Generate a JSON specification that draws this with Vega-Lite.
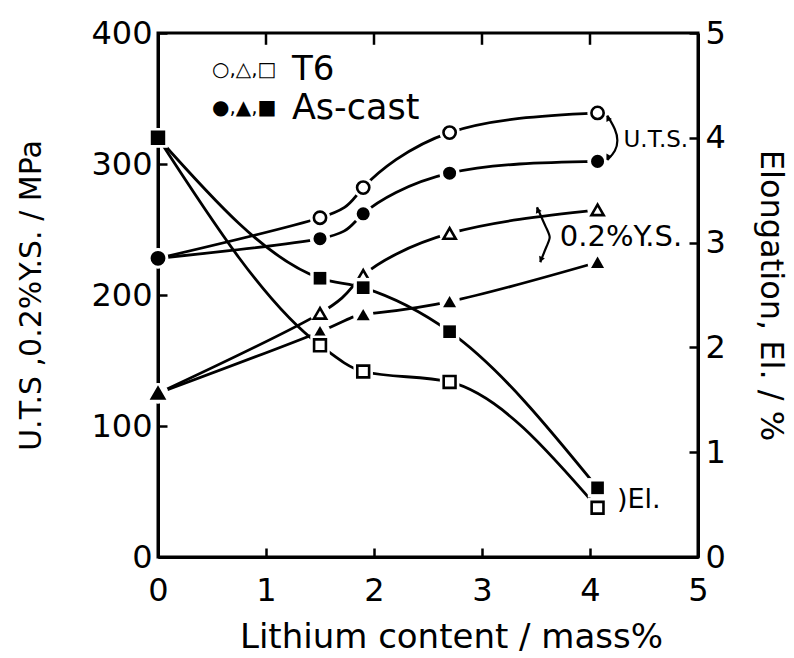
{
  "$schema": "https://vega.github.io/schema/vega-lite/v6.json",
  "autosize": "none",
  "width": 540,
  "height": 524,
  "padding": {"left": 158, "top": 33, "right": 96, "bottom": 101},
  "background": "white",
  "config": {
    "font": "DejaVu Sans",
    "view": {"stroke": "black", "strokeWidth": 3},
    "axis": {
      "grid": false,
      "domainColor": "black",
      "domainWidth": 3,
      "tickColor": "black",
      "tickWidth": 2.5,
      "tickSize": -9,
      "labelColor": "black",
      "labelFontSize": 32,
      "labelFont": "DejaVu Sans",
      "titleColor": "black",
      "titleFont": "DejaVu Sans",
      "titleFontWeight": "normal"
    }
  },
  "datasets": {
    "strength": [
      {"x": 0, "v": 228, "series": "UTS-T6", "kind": "UTS", "cond": "T6"},
      {"x": 1.5, "v": 259, "series": "UTS-T6", "kind": "UTS", "cond": "T6"},
      {"x": 1.9, "v": 282, "series": "UTS-T6", "kind": "UTS", "cond": "T6"},
      {"x": 2.7, "v": 324, "series": "UTS-T6", "kind": "UTS", "cond": "T6"},
      {"x": 4.07, "v": 339, "series": "UTS-T6", "kind": "UTS", "cond": "T6"},
      {"x": 0, "v": 228, "series": "UTS-AC", "kind": "UTS", "cond": "As-cast"},
      {"x": 1.5, "v": 243, "series": "UTS-AC", "kind": "UTS", "cond": "As-cast"},
      {"x": 1.9, "v": 262, "series": "UTS-AC", "kind": "UTS", "cond": "As-cast"},
      {"x": 2.7, "v": 293, "series": "UTS-AC", "kind": "UTS", "cond": "As-cast"},
      {"x": 4.07, "v": 302, "series": "UTS-AC", "kind": "UTS", "cond": "As-cast"},
      {"x": 0, "v": 125, "series": "YS-T6", "kind": "YS", "cond": "T6"},
      {"x": 1.5, "v": 186, "series": "YS-T6", "kind": "YS", "cond": "T6"},
      {"x": 1.9, "v": 215, "series": "YS-T6", "kind": "YS", "cond": "T6"},
      {"x": 2.7, "v": 247, "series": "YS-T6", "kind": "YS", "cond": "T6"},
      {"x": 4.07, "v": 265, "series": "YS-T6", "kind": "YS", "cond": "T6"},
      {"x": 0, "v": 125, "series": "YS-AC", "kind": "YS", "cond": "As-cast"},
      {"x": 1.5, "v": 172, "series": "YS-AC", "kind": "YS", "cond": "As-cast"},
      {"x": 1.9, "v": 185, "series": "YS-AC", "kind": "YS", "cond": "As-cast"},
      {"x": 2.7, "v": 195, "series": "YS-AC", "kind": "YS", "cond": "As-cast"},
      {"x": 4.07, "v": 225, "series": "YS-AC", "kind": "YS", "cond": "As-cast"}
    ],
    "elongation": [
      {"x": 0, "el": 4.0, "series": "El-T6", "kind": "El", "cond": "T6"},
      {"x": 1.5, "el": 2.02, "series": "El-T6", "kind": "El", "cond": "T6"},
      {"x": 1.9, "el": 1.77, "series": "El-T6", "kind": "El", "cond": "T6"},
      {"x": 2.7, "el": 1.67, "series": "El-T6", "kind": "El", "cond": "T6"},
      {"x": 4.07, "el": 0.47, "series": "El-T6", "kind": "El", "cond": "T6"},
      {"x": 0, "el": 4.0, "series": "El-AC", "kind": "El", "cond": "As-cast"},
      {"x": 1.5, "el": 2.66, "series": "El-AC", "kind": "El", "cond": "As-cast"},
      {"x": 1.9, "el": 2.57, "series": "El-AC", "kind": "El", "cond": "As-cast"},
      {"x": 2.7, "el": 2.15, "series": "El-AC", "kind": "El", "cond": "As-cast"},
      {"x": 4.07, "el": 0.66, "series": "El-AC", "kind": "El", "cond": "As-cast"}
    ],
    "labels": [
      {"x": 0.5, "v": 372, "text": "○,△,□", "size": 20},
      {"x": 1.24, "v": 372, "text": "T6", "size": 34},
      {"x": 0.5, "v": 343, "text": "●,▲,■", "size": 20},
      {"x": 1.24, "v": 343, "text": "As-cast", "size": 35},
      {"x": 4.31, "v": 318, "text": "U.T.S.", "size": 23},
      {"x": 3.72, "v": 244, "text": "0.2%Y.S.", "size": 29},
      {"x": 4.25, "v": 43.5, "text": ")El.", "size": 27}
    ],
    "braces": [
      {"x": 4.16, "v": 337, "b": "uts", "o": 1},
      {"x": 4.24, "v": 326, "b": "uts", "o": 2},
      {"x": 4.26, "v": 318, "b": "uts", "o": 3},
      {"x": 4.24, "v": 310, "b": "uts", "o": 4},
      {"x": 4.16, "v": 303, "b": "uts", "o": 5},
      {"x": 3.51, "v": 267, "b": "ys", "o": 1},
      {"x": 3.6, "v": 250, "b": "ys", "o": 2},
      {"x": 3.64, "v": 244, "b": "ys", "o": 3},
      {"x": 3.6, "v": 238, "b": "ys", "o": 4},
      {"x": 3.54, "v": 225, "b": "ys", "o": 5}
    ],
    "arrowheads": [
      {"x": 4.165, "v": 335, "angle": -30},
      {"x": 4.165, "v": 305, "angle": 210},
      {"x": 3.515, "v": 265, "angle": -25},
      {"x": 3.545, "v": 227, "angle": 205}
    ],
    "topticks": [
      {"x": 1, "v": 400, "v2": 391},
      {"x": 2, "v": 400, "v2": 391},
      {"x": 3, "v": 400, "v2": 391},
      {"x": 4, "v": 400, "v2": 391}
    ]
  },
  "layer": [
    {
      "encoding": {
        "x": {
          "field": "x",
          "type": "quantitative",
          "scale": {"domain": [0, 5], "nice": false, "zero": false},
          "axis": {
            "title": "Lithium  content / mass%",
            "titleFontSize": 34,
            "titlePadding": 14,
            "titleX": 293,
            "values": [0, 1, 2, 3, 4, 5],
            "format": "d",
            "labelPadding": 27,
            "labelFlush": false
          }
        },
        "y": {
          "field": "v",
          "type": "quantitative",
          "scale": {"domain": [0, 400], "nice": false},
          "axis": {
            "title": "U.T.S ,0.2%Y.S. / MPa",
            "titleFontSize": 30,
            "titlePadding": 44,
            "values": [0, 100, 200, 300, 400],
            "format": "d",
            "labelPadding": 15,
            "labelFlush": false
          }
        }
      },
      "layer": [
        {
          "data": {"name": "topticks"},
          "mark": {"type": "rule", "color": "black", "strokeWidth": 2.5},
          "encoding": {"y2": {"field": "v2"}}
        },
        {
          "data": {"name": "strength"},
          "mark": {"type": "line", "interpolate": "natural", "color": "black", "strokeWidth": 2.8},
          "encoding": {"detail": {"field": "series"}}
        },
        {
          "data": {"name": "strength"},
          "mark": {"type": "point", "filled": true, "fill": "white", "opacity": 1, "size": 420, "shape": "circle"}
        },
        {
          "data": {"name": "strength"},
          "transform": [{"filter": "datum.cond === 'T6'"}],
          "mark": {"type": "point", "filled": true, "fill": "white", "stroke": "black", "strokeWidth": 2.6, "opacity": 1, "size": 150},
          "encoding": {
            "shape": {"field": "kind", "scale": {"domain": ["UTS", "YS", "El"], "range": ["circle", "triangle-up", "square"]}, "legend": null}
          }
        },
        {
          "data": {"name": "strength"},
          "transform": [{"filter": "datum.cond === 'As-cast'"}],
          "mark": {"type": "point", "filled": true, "fill": "black", "opacity": 1, "size": 170},
          "encoding": {
            "shape": {"field": "kind", "scale": {"domain": ["UTS", "YS", "El"], "range": ["circle", "triangle-up", "square"]}, "legend": null}
          }
        },
        {
          "data": {"name": "braces"},
          "mark": {"type": "line", "interpolate": "basis", "color": "black", "strokeWidth": 2.2},
          "encoding": {"detail": {"field": "b"}, "order": {"field": "o"}}
        },
        {
          "data": {"name": "arrowheads"},
          "mark": {"type": "point", "shape": "triangle-up", "filled": true, "fill": "black", "opacity": 1, "size": 40},
          "encoding": {"angle": {"field": "angle", "type": "quantitative", "scale": null}}
        },
        {
          "data": {"name": "labels"},
          "mark": {"type": "text", "align": "left", "baseline": "middle", "color": "black", "font": "DejaVu Sans"},
          "encoding": {
            "text": {"field": "text"},
            "size": {"field": "size", "type": "quantitative", "scale": null}
          }
        }
      ]
    },
    {
      "encoding": {
        "x": {
          "field": "x",
          "type": "quantitative",
          "scale": {"domain": [0, 5], "nice": false, "zero": false}
        },
        "y": {
          "field": "el",
          "type": "quantitative",
          "scale": {"domain": [0, 5], "nice": false},
          "axis": {
            "orient": "right",
            "title": "Elongation, El. / %",
            "titleFontSize": 32,
            "titlePadding": 28,
            "values": [0, 1, 2, 3, 4, 5],
            "format": "d",
            "labelPadding": 16,
            "labelFlush": false
          }
        }
      },
      "layer": [
        {
          "data": {"name": "elongation"},
          "mark": {"type": "line", "interpolate": "monotone", "color": "black", "strokeWidth": 2.8},
          "encoding": {"detail": {"field": "series"}}
        },
        {
          "data": {"name": "elongation"},
          "mark": {"type": "point", "filled": true, "fill": "white", "opacity": 1, "size": 380, "shape": "square"}
        },
        {
          "data": {"name": "elongation"},
          "transform": [{"filter": "datum.cond === 'T6'"}],
          "mark": {"type": "point", "shape": "square", "filled": true, "fill": "white", "stroke": "black", "strokeWidth": 2.6, "opacity": 1, "size": 140}
        },
        {
          "data": {"name": "elongation"},
          "transform": [{"filter": "datum.cond === 'As-cast'"}],
          "mark": {"type": "point", "shape": "square", "filled": true, "fill": "black", "opacity": 1, "size": 160}
        }
      ]
    }
  ],
  "resolve": {"scale": {"y": "independent"}}
}
